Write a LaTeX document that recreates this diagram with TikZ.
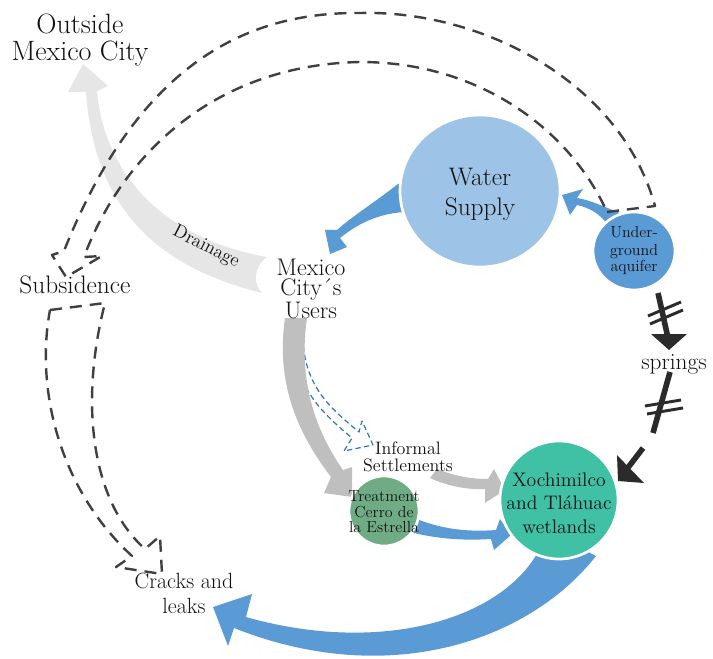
\documentclass[tikz,border=0pt]{standalone}
\definecolor{ink}{HTML}{111111}
\definecolor{wsblue}{HTML}{9DC3E6}
\definecolor{aqblue}{HTML}{5B9BD5}
\definecolor{flowblue}{HTML}{5B9BD5}
\definecolor{wetgreen}{HTML}{40C1A6}
\definecolor{plantgreen}{HTML}{6FAC86}
\definecolor{drain}{HTML}{E7E6E6}
\definecolor{flowgrey}{HTML}{BFBFBF}
\definecolor{dashgrey}{HTML}{404040}
\definecolor{dashblue}{HTML}{2E75B6}
\definecolor{springdark}{HTML}{2B2B2B}
\begin{document}
\begin{tikzpicture}[x=0.75pt,y=-0.75pt,
  txt/.style={align=center,inner sep=0pt,text=ink},
  blob/.style={draw=white,line width=2pt},
  dasharrow/.style={draw=dashgrey,line width=1.8pt,dash pattern=on 9pt off 6pt,line join=round},
  bluedash/.style={draw=dashblue,line width=0.9pt,dash pattern=on 4pt off 2.5pt,line join=round},
  springline/.style={draw=springdark,line width=4.2pt},
  breakbar/.style={draw=springdark,line width=2.2pt}]
\useasboundingbox (0,0) rectangle (713,659);

% drainage to outside the city
\fill[drain] (267,257) .. controls (253,268) and (253,284) .. (262,293)
  .. controls (170,270) and (95,220) .. (86,92)
  -- (68,92) -- (83,64) -- (108,86) -- (97,91)
  .. controls (105,180) and (170,240) .. (267,257) -- cycle;

% users to informal settlements (hollow dashed)
\draw[bluedash] (293,338) .. controls (295,390) and (325,415) .. (352,438)
  -- (344,451) -- (373,445) -- (362,421) -- (359,432)
  .. controls (330,408) and (303,385) .. (303,335) -- cycle;

% users to treatment plant
\fill[flowgrey] (285,318) .. controls (276,380) and (295,430) .. (331,477)
  -- (324,493) -- (352,497) -- (352,467) -- (343,470)
  .. controls (315,430) and (298,380) .. (307,318) -- cycle;

% water supply to users
\fill[flowblue] (404,181) -- (398,184) .. controls (375,202) and (350,218) .. (337,230)
  -- (325,230) -- (330,254) -- (347,247) -- (340,238)
  .. controls (355,226) and (375,214) .. (404,212) -- cycle;

% aquifer to water supply
\fill[flowblue] (622,214) .. controls (605,207) and (590,200) .. (577,198)
  -- (583,189) -- (562,195) -- (570,215) -- (577,205)
  .. controls (590,208) and (600,214) .. (607,224) -- cycle;

% informal settlements to wetlands
\fill[flowgrey] (437,469) .. controls (455,476) and (470,479) .. (488,479)
  -- (494,469) -- (505,490) -- (485,503) -- (485,489)
  .. controls (465,490) and (445,485) .. (430,478) -- cycle;

% treatment plant to wetlands
\fill[flowblue] (410,516) .. controls (440,530) and (470,532) .. (496,530)
  -- (500,519) -- (511,535) -- (494,550) -- (491,539)
  .. controls (460,541) and (433,538) .. (410,532) -- cycle;

% wetlands to cracks and leaks
\fill[flowblue] (575,545) -- (596,556)
  .. controls (530,640) and (390,690) .. (234,628)
  -- (228,646) -- (213,607) -- (252,594) -- (246,617)
  .. controls (380,655) and (500,620) .. (538,552)
  -- (540,545) -- cycle;

% aquifer to subsidence (hollow dashed)
\draw[dasharrow] (607,212) -- (655,206)
  .. controls (620,80) and (480,10) .. (360,13)
  .. controls (250,12) and (140,60) .. (64,251)
  -- (52,255) -- (66,277) -- (102,256) -- (84,257)
  .. controls (120,160) and (210,65) .. (360,62)
  .. controls (480,62) and (570,130) .. (607,212) -- cycle;

% subsidence to cracks and leaks (hollow dashed)
\draw[dasharrow] (50,310) -- (105,303)
  .. controls (80,400) and (90,500) .. (145,549)
  -- (160,536) -- (162,574) -- (116,567) -- (132,556)
  .. controls (60,490) and (35,390) .. (50,310) -- cycle;

% circles
\fill[wsblue,blob] (480,191) ellipse [x radius=80, y radius=76];
\fill[aqblue,blob] (634,251) ellipse [x radius=41, y radius=39];
\fill[wetgreen,blob] (559,500) circle [radius=59];
\fill[plantgreen,blob] (384,511) circle [radius=35];

% aquifer to springs to wetlands
\coordinate (sp1) at (658,293);
\coordinate (sp2) at (668,338);
\coordinate (sp3) at (670,372);
\coordinate (sp4) at (653,433);
\coordinate (sp5) at (643,448);
\coordinate (sp6) at (627,469);
\draw[springline] (sp1) -- (sp2);
\draw[breakbar] (648,316) -- (681,302);
\draw[breakbar] (650,324) -- (683,310);
\fill[springdark] (651,334) -- (687,334) -- (669,350) -- cycle;
\draw[springline] (sp3) -- (sp4);
\draw[breakbar] (645,406) -- (681,400);
\draw[breakbar] (647,414) -- (683,408);
\draw[springline] (sp5) -- (sp6);
\fill[springdark] (617,455) -- (644,483) -- (618,481) -- cycle;

% labels
\node[txt,font=\fontsize{21}{20.5}\selectfont] (out) at (80,40) {Outside\\Mexico City};
\node[txt,font=\fontsize{19}{22.5}\selectfont] (ws) at (480,194) {Water\\Supply};
\node[txt,font=\fontsize{12}{12.75}\selectfont] (aq) at (634,251) {Under-\\ground\\aquifer};
\node[txt,font=\fontsize{18}{14.6}\selectfont] (users) at (311,289) {Mexico\\City´s\\Users};
\node[txt,font=\fontsize{19}{20}\selectfont] (sub) at (75,285) {Subsidence};
\node[txt,font=\fontsize{16.5}{18.75}\selectfont] (cracks) at (184,593) {Cracks and\\leaks};
\node[txt,font=\fontsize{17.5}{20}\selectfont] (springs) at (674,364) {springs};
\node[txt,font=\fontsize{13.5}{12.75}\selectfont] (inf) at (408,457) {Informal\\Settlements};
\node[txt,font=\fontsize{12}{11.6}\selectfont] (tr) at (384,512) {Treatment\\Cerro de\\la Estrella};
\node[txt,font=\fontsize{14.7}{17.6}\selectfont] (xo) at (559,503) {Xochimilco\\and Tláhuac\\wetlands};
\node[txt,font=\fontsize{14}{16}\selectfont,rotate=-27] (drn) at (206,247) {Drainage};
\end{tikzpicture}
\end{document}
